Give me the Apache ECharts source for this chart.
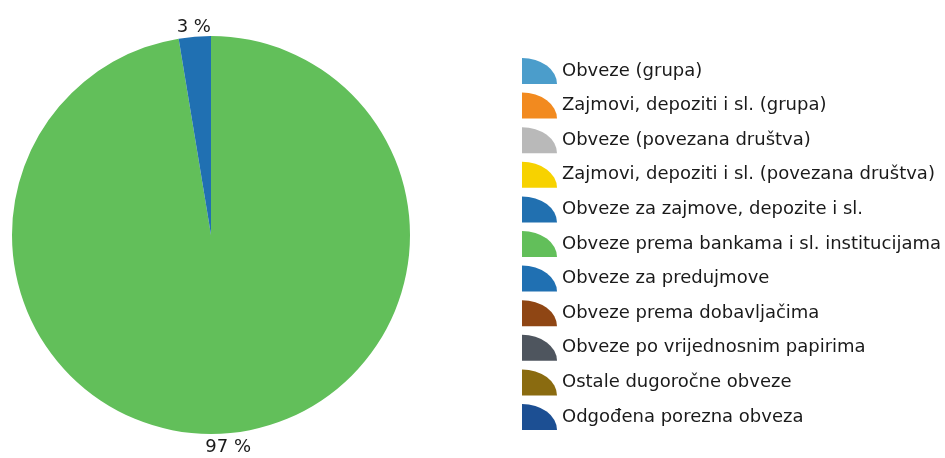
<!DOCTYPE html>
<html>
<head>
<meta charset="utf-8">
<script src="https://cdn.jsdelivr.net/npm/echarts@6/dist/echarts.min.js"></script>
<style>
html,body{margin:0;padding:0;background:#fff;}
#c{width:945px;height:458px;}
</style>
</head>
<body>
<div id="c"></div>
<script>
const categories = [
  'Obveze (grupa)',
  'Zajmovi, depoziti i sl. (grupa)',
  'Obveze (povezana društva)',
  'Zajmovi, depoziti i sl. (povezana društva)',
  'Obveze za zajmove, depozite i sl.',
  'Obveze prema bankama i sl. institucijama',
  'Obveze za predujmove',
  'Obveze prema dobavljačima',
  'Obveze po vrijednosnim papirima',
  'Ostale dugoročne obveze',
  'Odgođena porezna obveza'
];
const values = [0, 0, 0, 0, 0, 97.4, 2.6, 0, 0, 0, 0];
const palette = ['#4b9dcb', '#f28a1f', '#b9b9b9', '#f7d200', '#2170b0', '#62bf5a',
                 '#2070b2', '#8f4614', '#4e555e', '#8a6b10', '#1c4f93'];

const data = categories.map((n, i) => ({ name: n, value: values[i] }));
const FONT = 'DejaVu Sans';

const chart = echarts.init(document.getElementById('c'), null, { renderer: 'canvas' });
chart.setOption({
  animation: false,
  backgroundColor: '#ffffff',
  color: palette,
  legend: {
    orient: 'vertical',
    left: 517,
    top: 53,
    itemWidth: 35,
    itemHeight: 26,
    itemGap: 8.6,
    icon: 'path://M0,0 A35,26 0 0,1 35,26 L0,26 Z',
    selectedMode: false,
    data: categories,
    textStyle: { fontFamily: FONT, fontSize: 18, color: '#1a1a1a' }
  },
  series: [
    {
      type: 'pie',
      center: [211, 235],
      radius: 199,
      startAngle: 90,
      clockwise: true,
      silent: true,
      label: { show: false },
      labelLine: { show: false },
      emphasis: { disabled: true },
      itemStyle: { borderWidth: 0 },
      data: data
    },
    {
      type: 'pie',
      center: [211, 237.5],
      radius: [196.5, 218.5],
      startAngle: 90,
      clockwise: true,
      silent: true,
      minShowLabelAngle: 1,
      legendHoverLink: false,
      itemStyle: { color: 'rgba(0,0,0,0)', borderWidth: 0 },
      emphasis: { disabled: true },
      label: {
        show: true,
        position: 'inside',
        formatter: '{d} %',
        fontFamily: FONT,
        fontSize: 18,
        color: '#1a1a1a'
      },
      percentPrecision: 0,
      labelLine: { show: false },
      data: data
    }
  ]
});
</script>
</body>
</html>
